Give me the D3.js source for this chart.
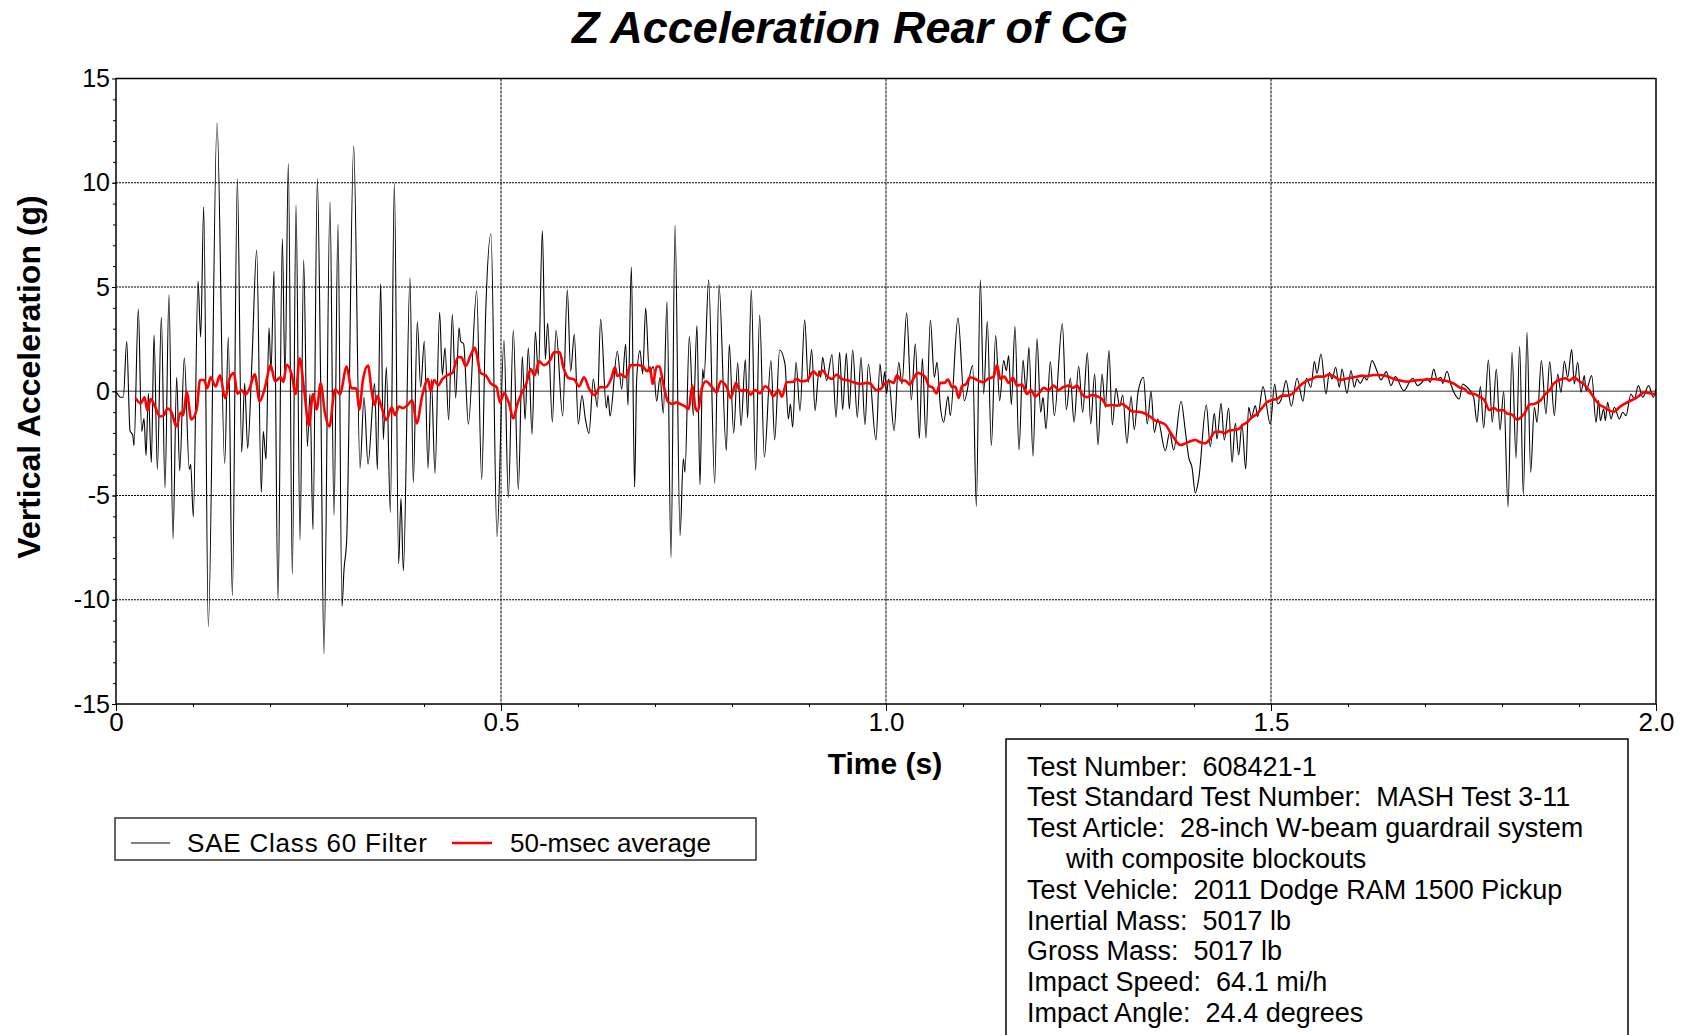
<!DOCTYPE html>
<html>
<head>
<meta charset="utf-8">
<title>Z Acceleration Rear of CG</title>
<script src="https://cdn.jsdelivr.net/npm/d3@7"></script>
<style>
  body { margin: 0; background: #fff; }
  svg { display: block; font-family: "Liberation Sans", Arial, sans-serif; }
  .tick text { font-family: "Liberation Sans", Arial, sans-serif; fill: #000; }
  .info text { white-space: pre; }
</style>
</head>
<body>
<div id="chart"></div>
<script>
// time in ms, acceleration in g (peaks and troughs)
var saeTime = [0,6.1,9.5,13.9,18.2,21.7,23.4,29,33.3,36.4,39,42,45.9,49.4,53.7,58.9,63.6,68.8,74,78.8,82.7,88.7,95.2,97,100.4,106.5,110,113.9,119.9,131.2,141.1,145.9,151.1,157.6,163.2,167.1,171,176.6,182.7,188.7,191.3,194.8,198.7,201.3,205.2,210.4,216,219.5,223.8,229,233.8,239,243.7,248.5,251.9,255.8,261.5,265.8,270.1,277.9,283.1,288.3,293.5,296.1,299.6,308.7,316.9,322.1,327.3,335.9,339.4,343.7,347.2,351.1,356.3,361.5,367.1,370.1,373.2,381.8,386.1,391.3,395.7,400.4,405.2,409.5,414.3,420.3,423.8,427.3,432,436.8,441.1,445.5,447.6,451.5,457.6,468.4,474.9,480.2,487,494.8,503.9,509.5,516,522.5,527.7,531.2,535.5,540.3,544.6,548.5,553.7,557.6,560.6,566.7,571.4,580.1,586.1,590.5,595.2,600.4,605.2,609.5,614.3,619.9,625.1,629.4,636.8,639,641.6,651.1,656.7,661.9,664.9,669.3,673.5,676.2,680.5,684,687.9,692.6,697.8,702.2,706.5,710.8,715.6,720.8,726,732.5,736.8,738.9,744.6,749.8,754.5,758.4,761.9,763.6,769.7,777.5,783.1,792.6,796.5,802.2,807.4,811.7,817.3,820.3,825.1,830.7,835.9,842,850.6,855.4,861.9,868.8,873.2,875.8,878.8,883.1,888.3,894.4,899.1,903.5,907.8,913,915.2,917.7,922.9,929.9,935.1,939.8,943.7,948.5,952.4,956.7,962.8,967.5,972.7,977.1,987,992.2,995.5,998.5,1000.5,1003.5,1010.5,1016.5,1020.8,1026.8,1032.9,1038.1,1043.3,1047.2,1051.9,1057.6,1062.8,1066.2,1070.6,1074.9,1080.5,1083.5,1093.5,1101.7,1112.6,1117.3,1122.5,1126.8,1131.6,1136.8,1142.4,1147.6,1152.8,1156.3,1159.3,1162.8,1167.5,1172.7,1177.9,1181.8,1185.7,1190.9,1196.1,1200.9,1203.9,1207.8,1213.4,1218.6,1229,1234.2,1239.4,1244.2,1250.2,1255.4,1261.5,1265.8,1271,1275.3,1280.5,1284.8,1289.6,1293.9,1298.7,1303.5,1307.4,1313,1318.2,1322.5,1327.3,1334.4,1339.3,1344.2,1348.5,1352.8,1362.8,1368.4,1373.6,1383.1,1388.7,1393.1,1397.4,1401.7,1406.1,1416,1421.2,1426.4,1429.9,1435.1,1439.4,1445,1449.4,1453.7,1458,1462.3,1467.1,1471,1474.5,1479.7,1482.7,1489.6,1499.1,1504.8,1508.7,1514.3,1519.5,1526.4,1533.8,1541.6,1545.9,1551.9,1556.3,1559.7,1564.9,1571.4,1575.8,1579.2,1584,1588.7,1592.2,1598.7,1603.9,1608.2,1611.7,1616,1621,1624.7,1631.2,1638.5,1642.9,1649.8,1655.8,1661.5,1672.3,1684,1690.5,1702.6,1706.9,1711.3,1715.6,1720.8,1723,1728.6,1733.8,1744.6,1748.9,1753.4,1763.2,1767.5,1771.9,1776.2,1782.3,1787.4,1792.6,1797.4,1802.2,1807.8,1813,1818.2,1822.9,1827.7,1832.5,1837.2,1842,1845.5,1851.1,1857.1,1861.9,1868,1872.3,1876.6,1881,1885.3,1890.5,1893.9,1898.3,1902.6,1906.9,1909.1,1916.5,1922.1,1925.5,1927.7,1932,1934.2,1937.2,1941.6,1945.9,1952.4,1956.7,1961,1967.5,1971.9,1977.1,1982.7,1990.5,1996.5,2000];
var saeAccel = [0,-0.29,-0.29,2.4,-1.9,-2.1,-2.6,3.94,-1.92,-1.31,-3.08,-0.1,-3.42,2.69,-3.75,3.56,-4.65,4.62,-7.08,0.67,-3.81,1.6,-3.75,-3.5,-6.02,5.29,2.6,8.85,-11.29,12.88,-3.46,2.6,-9.81,10.19,-2.92,0.38,-2.73,1.5,6.77,-4.85,-1.92,-3.27,3.04,0.96,5.77,-10.04,7.31,0.58,10.92,-8.79,8.94,-7.15,6.31,-2.65,-0.12,-6.63,10.19,0.38,-12.6,9.1,-5.96,8.02,-10.31,-8.56,-7.12,11.77,-3.69,-0.29,-3.5,0.38,-3.75,5.15,-2.31,1.15,-5.81,10,-8.27,-5.13,-8.6,5.44,-4.38,3.33,0.19,2.4,-3.69,0.58,-3.94,3.79,0.77,2.08,-1.38,3.69,-0.33,3.04,2.4,2.27,-1.58,4.81,-4.23,3.85,7.54,-6.98,2.44,-5.1,2.92,-4.71,1.67,-1.35,2.08,-2.06,2.85,0.77,7.69,1.54,3.27,-1.48,2.92,-1.19,4.87,0.96,2.73,-1.58,-0.19,-1.31,-2.02,0.58,-0.77,3.46,-0.81,-0.19,-1.19,1.92,0.1,2.25,-0.67,5.96,-4.6,0.59,1.95,0.83,3.99,0.91,1.18,-0.48,0.67,-1.05,4.3,-8,7.97,-6.92,-3.24,-3.88,2.64,-1.17,3.15,-4.47,1.07,0.59,5.34,-4.41,5.1,-2.84,2.24,-2.01,1.36,-1.65,1.52,-1.28,4.87,-3.8,3.66,-3.16,1.47,-2.33,1.98,1.31,-1.33,-0.61,-1.73,1.39,-0.93,3.43,0.43,2,-0.93,0.99,0.67,1.63,0.51,1.76,-1.25,1.87,-0.88,1.82,-0.85,1.98,-1.25,1.63,-1.6,1.31,-2.33,1.31,0.2,0.95,-0.13,0.59,-1.89,1.39,0.35,3.76,-0.42,2.27,-2.26,1.58,-2.24,3.42,0.67,1.39,-0.72,-1.49,-0.24,-1.17,3.52,-0.45,1.23,-5.52,5.34,-0.13,3.34,-2.61,2.67,-0.45,1.47,0.99,1.71,-0.64,3.1,-2.82,1.5,0.03,2.11,-3.12,2.51,-1.01,-0.29,-1.81,1.42,-1.17,3.23,-0.88,0.62,-1.49,1.2,-1.01,1.84,-1.57,0.83,-2.58,0.83,-0.77,1.95,-1.62,0.14,-0.72,-0.18,-2.5,-0.24,-1.84,-0.05,0.67,-1.57,-0.02,-1.97,-1.33,-2.85,-1.97,-2.82,-0.48,-1.89,-3.17,-3.65,-4.88,-4.21,-0.66,-2.66,-1.06,-2.29,-0.58,-2.34,-0.8,-3.41,-1.54,-3.06,-1.57,-3.73,-0.77,-1.25,-0.69,-1.22,0.22,-1.57,0.35,-0.61,-0.29,0.51,-0.72,0.62,-0.48,0.62,0.19,1.42,0.86,1.79,-0.13,0.91,0.59,1.15,0.19,1.07,-0.1,0.99,0.19,0.59,0.38,0.67,0.54,1.47,0.88,0.54,0.94,0.27,0.7,0.03,0.62,0.27,0.62,0.43,1.07,0.59,0.67,0.38,0.96,0.3,-0.37,0.35,0.24,-0.29,-1.49,0.22,-1.76,1.5,-1.49,1.07,-1.86,-0.02,-5.54,1.87,-3.2,2.16,-4.96,2.83,-3.89,-0.77,-1.49,1.47,-1.09,1.42,-1.17,0.83,-0.05,1.44,0.67,2,0.35,1.39,-0.05,0.75,0.03,0.75,-1.49,-0.45,-1.41,-0.85,-1.41,-0.53,-1.33,-0.77,-1.33,-1.01,-1.17,-0.13,-0.37,0.27,-0.29,0.27,-0.29,0.11];

// 50-msec running average
var avgTime = [25.5,32,37.2,40.7,45,50.6,57.1,62.3,66.7,72.3,78.4,84,87.4,91.8,97.8,104.8,109.1,114.3,118.6,122.9,129.4,135.1,141.6,148,153.2,157.6,163.2,168.4,174,180.1,186.6,193.1,200.9,206.5,213.9,217.3,221.6,228.1,233.3,238.5,244.2,250.6,255.8,260.6,265.8,271.4,277.1,284.4,290.9,299.6,305.6,312.1,316,320.8,327.3,332,335.9,339.4,343.7,351.1,358,362.3,367.5,372.7,378.4,384.8,390.5,397.8,405.2,408.7,413,418.6,423.8,430.3,436.8,444.2,448.5,454.1,460.6,465.8,473.6,480.1,486.6,494.4,498.7,503.9,510.4,516,521.2,526.8,532.9,538.5,543.7,549.4,555.8,564.5,568.8,576.2,581,588.3,594.8,601.3,607.8,614.3,621.6,628.6,635.9,643.3,648,651.1,655.4,661.9,668.4,676.2,684,690,693.5,696.9,702.2,705.6,710.8,717.3,722.9,728.1,732.5,738.9,743.7,748.5,752.4,755.8,760.6,766.2,773.6,780.1,785.3,793.1,798.3,805.2,810.4,819,824.2,829.9,836.4,842.9,849.4,853.7,860.2,864.9,871,879.7,884,889.2,897,905.6,912.1,917.7,922.9,929.4,935.9,942.4,951.1,957.6,966.2,974.9,980.1,987,993.1,1000,1005,1010,1014.3,1019.5,1025.1,1030.7,1035.9,1041.1,1046.8,1051.1,1055.4,1061,1065.4,1070.6,1075.8,1080.5,1085.7,1090,1094.4,1098.7,1104.3,1108.7,1116,1121.6,1126.8,1132,1139.8,1144.2,1148.5,1153.7,1159.3,1164.9,1170.1,1176.6,1183.1,1188.3,1193.9,1199.6,1204.8,1211.3,1217.7,1224.2,1229.9,1237.2,1242.9,1248,1254.5,1261,1267.5,1274,1280.5,1287,1293.5,1300,1306.5,1313,1319.5,1326,1334.6,1342.4,1349.8,1356.3,1362.8,1369.3,1374.9,1382.3,1388.7,1395.2,1401.7,1408.2,1414.7,1421.2,1427.7,1434.2,1440.7,1445,1451.5,1458,1462.3,1468.8,1475.3,1481.8,1488.3,1494.8,1501.3,1507.8,1514.3,1520.8,1527.3,1533.8,1540.3,1546.8,1553.2,1559.7,1568.4,1574.9,1581.4,1590,1596.5,1603,1611.7,1618.2,1624.7,1633.3,1642,1650.6,1659.3,1668,1677.5,1686.2,1694.8,1703.5,1712.1,1720.8,1729.4,1738.1,1744.6,1751.1,1757.6,1764.1,1770.6,1777.1,1783.6,1790,1794.4,1800.9,1806.5,1813,1819.5,1824.7,1830.3,1835.5,1841.1,1846.3,1850.6,1856.3,1861.5,1866.7,1872.3,1877.9,1883.1,1887.4,1893.9,1900.4,1906.9,1913.4,1919.9,1926.4,1932.9,1939.4,1945.9,1952.4,1958.9,1965.4,1971.9,1978.4,1984.8,1991.3,1997.8,2000];
var avgAccel = [-0.33,-0.58,-0.29,-0.92,-0.38,-0.73,-1.21,-1.15,-0.83,-1.02,-1.69,-1.02,-1.15,-0.04,-1.35,-0.87,0.54,0.54,0.15,0.67,0.23,0.77,-0.33,0.67,0.87,-0.12,0.04,-0.15,0.19,0.81,-0.48,0.12,1.25,0.48,0.67,0.44,1.27,0.81,-0.13,1.58,0.1,-1.65,-0.13,-0.87,0.38,-1.06,-1.69,0.08,-0.13,1.19,0.15,0.13,-0.87,0.58,1.23,0,-0.67,-0.23,-0.62,-1.38,-0.77,-1.15,-0.73,-0.81,-0.67,-0.44,-1.54,-0.19,0.58,0,0.54,0.29,0.58,0.77,0.87,1.63,1.63,1.21,1.73,2.08,0.87,0.77,0.38,0.19,-0.54,-0.1,-0.58,-1.31,-0.62,-0.1,0.38,1.06,0.77,1.44,1.25,1.54,1.87,1.87,1.15,0.62,0.58,0.23,0.67,0.13,-0.19,0.19,0.19,0.62,1.15,0.73,0.81,0.67,1.25,1.26,1.2,0.96,1.15,0.35,1.18,1.2,0.35,-0.53,-0.61,-0.53,-0.61,-0.73,-0.85,0.27,-0.77,-0.96,0.11,0.48,0.22,-0.05,0.48,0.19,-0.32,0.4,0.03,0.06,-0.16,0.06,-0.1,0.24,0.03,-0.24,0.06,-0.26,0.43,0.46,0.59,0.48,0.51,0.94,0.75,0.99,0.75,0.59,0.8,0.59,0.51,0.43,0.35,0.4,0.35,0.06,0.11,0.43,0.48,0.4,0.78,0.51,0.51,0.32,0.62,0.88,0.8,0.67,0.27,0.16,-0.1,0.4,0.4,0.56,0.19,0.22,-0.32,0.24,0.35,0.67,0.59,0.48,0.43,0.59,0.7,1.26,0.59,0.7,0.4,0.64,0.27,0.32,-0.13,0.06,-0.26,-0.05,0.16,0.06,0.27,0.06,0.19,0.27,0.16,0.27,-0.13,-0.29,-0.18,-0.24,-0.37,-0.69,-0.66,-0.69,-0.61,-0.77,-0.96,-0.98,-1.04,-1.2,-1.41,-1.49,-1.6,-1.97,-2.29,-2.58,-2.5,-2.4,-2.34,-2.45,-2.5,-2.26,-1.94,-1.94,-2.02,-1.89,-1.86,-1.81,-1.65,-1.49,-1.25,-1.09,-0.8,-0.53,-0.42,-0.37,-0.21,-0.21,-0.13,0.11,0.35,0.51,0.59,0.7,0.7,0.8,0.72,0.54,0.59,0.64,0.7,0.75,0.72,0.78,0.78,0.72,0.59,0.51,0.46,0.51,0.54,0.56,0.59,0.54,0.48,0.35,0.19,0.11,-0.1,-0.13,-0.26,-0.42,-0.9,-0.8,-0.93,-0.9,-1.06,-1.12,-1.36,-1.25,-1,-0.64,-0.61,-0.53,-0.42,-0.13,0.03,0.35,0.51,0.59,0.62,0.51,0.67,0.48,0.32,0.03,-0.34,-0.64,-0.77,-0.93,-0.98,-0.77,-0.61,-0.48,-0.37,-0.21,-0.05,-0.1,-0.13,-0.15];

var xTicks = [0, 0.5, 1.0, 1.5, 2.0];
var xTickLabels = ["0", "0.5", "1.0", "1.5", "2.0"];
var yTicks = [15, 10, 5, 0, -5, -10, -15];
var yTickLabels = ["15", "10", "5", "0", "-5", "-10", "-15"];
var seriesNames = ["SAE Class 60 Filter", "50-msec average"];
var infoLines = [
    "Test Number:  608421-1",
    "Test Standard Test Number:  MASH Test 3-11",
    "Test Article:  28-inch W-beam guardrail system",
    "with composite blockouts",
    "Test Vehicle:  2011 Dodge RAM 1500 Pickup",
    "Inertial Mass:  5017 lb",
    "Gross Mass:  5017 lb",
    "Impact Speed:  64.1 mi/h",
    "Impact Angle:  24.4 degrees"
];

var W = 1686, H = 1035;
var plot = { left: 116, right: 1656, top: 78.5, bottom: 704 };

var svg = d3.select("#chart").append("svg")
    .attr("width", W)
    .attr("height", H);

// scales (time in seconds on the axis)
var x = d3.scaleLinear().domain([0, 2]).range([plot.left, plot.right]);
var y = d3.scaleLinear().domain([-15, 15]).range([plot.bottom, plot.top]);

// title
svg.append("text")
    .attr("x", 850)
    .attr("y", 43)
    .attr("text-anchor", "middle")
    .style("font-size", "45px")
    .style("font-weight", "bold")
    .style("font-style", "italic")
    .text("Z Acceleration Rear of CG");

// gridlines
svg.append("g")
    .selectAll("line")
    .data([10, 5, -5, -10])
    .enter().append("line")
    .attr("x1", plot.left).attr("x2", plot.right)
    .attr("y1", function (d) { return y(d); })
    .attr("y2", function (d) { return y(d); })
    .attr("stroke", "#000")
    .attr("stroke-width", 1)
    .attr("stroke-dasharray", "2,1");

svg.append("g")
    .selectAll("line")
    .data([0.5, 1.0, 1.5])
    .enter().append("line")
    .attr("y1", plot.top).attr("y2", plot.bottom)
    .attr("x1", function (d) { return x(d); })
    .attr("x2", function (d) { return x(d); })
    .attr("stroke", "#000")
    .attr("stroke-width", 1)
    .attr("stroke-dasharray", "3,1");

// zero line
svg.append("line")
    .attr("x1", plot.left).attr("x2", plot.right)
    .attr("y1", y(0)).attr("y2", y(0))
    .attr("stroke", "#7a7a7a")
    .attr("stroke-width", 1.5);

// clip for the traces
svg.append("clipPath").attr("id", "clip")
    .append("rect")
    .attr("x", plot.left).attr("y", plot.top)
    .attr("width", plot.right - plot.left)
    .attr("height", plot.bottom - plot.top);

var sae = saeTime.map(function (t, i) { return [t / 1000, saeAccel[i]]; });
var avg = avgTime.map(function (t, i) { return [t / 1000, avgAccel[i]]; });

var saeLine = d3.line()
    .x(function (d) { return x(d[0]); })
    .y(function (d) { return y(d[1]); })
    .curve(d3.curveMonotoneX);

var avgLine = d3.line()
    .x(function (d) { return x(d[0]); })
    .y(function (d) { return y(d[1]); })
    .curve(d3.curveMonotoneX);

svg.append("path")
    .datum(sae)
    .attr("clip-path", "url(#clip)")
    .attr("fill", "none")
    .attr("stroke", "#000")
    .attr("stroke-width", 1.1)
    .attr("d", saeLine);

svg.append("path")
    .datum(avg)
    .attr("clip-path", "url(#clip)")
    .attr("fill", "none")
    .attr("stroke", "#ff0000")
    .attr("stroke-width", 2.6)
    .attr("stroke-linejoin", "round")
    .attr("d", avgLine);

// plot frame
svg.append("rect")
    .attr("x", plot.left).attr("y", plot.top)
    .attr("width", plot.right - plot.left)
    .attr("height", plot.bottom - plot.top)
    .attr("fill", "none")
    .attr("stroke", "#000")
    .attr("stroke-width", 1.5);

// x axis: major + minor ticks
var xAxis = svg.append("g")
    .attr("transform", "translate(0," + plot.bottom + ")")
    .call(d3.axisBottom(x)
        .tickValues(xTicks)
        .tickFormat(function (d, i) { return xTickLabels[i]; })
        .tickSize(7)
        .tickSizeOuter(0)
        .tickPadding(2));
xAxis.select(".domain").remove();
xAxis.selectAll("text").style("font-size", "26px");

var xMinor = svg.append("g")
    .attr("transform", "translate(0," + plot.bottom + ")")
    .call(d3.axisBottom(x)
        .tickValues(d3.range(1, 20).map(function (i) { return i / 10; }))
        .tickFormat("")
        .tickSize(3)
        .tickSizeOuter(0));
xMinor.select(".domain").remove();

// y axis: major + minor ticks
var yAxis = svg.append("g")
    .attr("transform", "translate(" + plot.left + ",0)")
    .call(d3.axisLeft(y)
        .tickValues(yTicks)
        .tickFormat(function (d, i) { return yTickLabels[i]; })
        .tickSize(4)
        .tickSizeOuter(0)
        .tickPadding(2));
yAxis.select(".domain").remove();
yAxis.selectAll("text").style("font-size", "25px");

var yMinor = svg.append("g")
    .attr("transform", "translate(" + plot.left + ",0)")
    .call(d3.axisLeft(y)
        .tickValues(d3.range(-14, 15))
        .tickFormat("")
        .tickSize(3)
        .tickSizeOuter(0));
yMinor.select(".domain").remove();

// axis titles
svg.append("text")
    .attr("x", 885)
    .attr("y", 774)
    .attr("text-anchor", "middle")
    .style("font-size", "30px")
    .style("font-weight", "bold")
    .text("Time (s)");

svg.append("text")
    .attr("transform", "translate(40,377) rotate(-90)")
    .attr("text-anchor", "middle")
    .style("font-size", "32px")
    .style("font-weight", "bold")
    .text("Vertical Acceleration (g)");

// legend
var legend = svg.append("g");
legend.append("rect")
    .attr("x", 115).attr("y", 818)
    .attr("width", 641).attr("height", 42)
    .attr("fill", "#fff")
    .attr("stroke", "#333")
    .attr("stroke-width", 1.5);

var legendItems = [
    { name: seriesNames[0], color: "#000", width: 1.1, x1: 131, x2: 170, tx: 187 },
    { name: seriesNames[1], color: "#ff0000", width: 2.6, x1: 452, x2: 492, tx: 510 }
];
legendItems.forEach(function (d) {
    legend.append("line")
        .attr("x1", d.x1).attr("x2", d.x2)
        .attr("y1", 843).attr("y2", 843)
        .attr("stroke", d.color)
        .attr("stroke-width", d.width);
    legend.append("text")
        .attr("x", d.tx).attr("y", 852)
        .style("font-size", "26px")
        .style("letter-spacing", d.tx == 187 ? "0.8px" : "0px")
        .text(d.name);
});

// test info box
var info = svg.append("g").attr("class", "info");
info.append("rect")
    .attr("x", 1006).attr("y", 739)
    .attr("width", 622).attr("height", 310)
    .attr("fill", "#fff")
    .attr("stroke", "#000")
    .attr("stroke-width", 1.5);

info.selectAll("text")
    .data(infoLines)
    .enter().append("text")
    .attr("x", function (d, i) { return i == 3 ? 1066 : 1027; })
    .attr("y", function (d, i) { return 775.5 + i * 30.8; })
    .attr("xml:space", "preserve")
    .style("font-size", "27px")
    .text(function (d) { return d; });
</script>
</body>
</html>
